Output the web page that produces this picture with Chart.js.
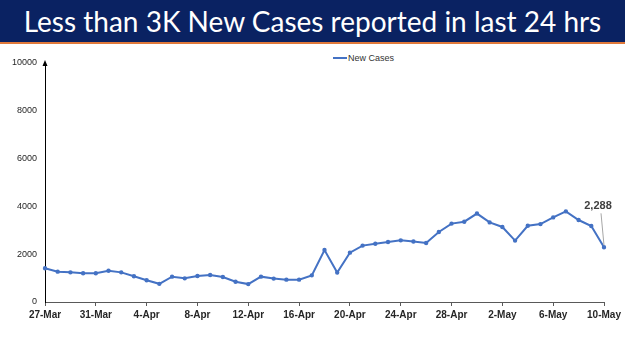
<!DOCTYPE html>
<html>
<head>
<meta charset="utf-8">
<script src="https://cdn.jsdelivr.net/npm/chart.js@4"></script>
<style>
  html, body { margin: 0; padding: 0; background: #fff; }
  #wrap { position: relative; width: 625px; height: 351px; overflow: hidden; }
  #banner {
    position: absolute; left: 0; top: 0; width: 625px; height: 42px;
    background: #0a2262; border-bottom: 2px solid #e0793a;
    color: #fff; font-family: Lato, sans-serif; font-size: 28px;
    line-height: 42px; text-align: center;
  }
  #legend {
    position: absolute; left: 333px; top: 53px;
    font-family: "Liberation Sans", Arial, sans-serif; font-size: 9px; color: #333;
    display: flex; align-items: center;
  }
  #legend span.mark { display: inline-block; width: 14px; height: 2px; background: #4472c4; margin-right: 1px; }
  #box { position: absolute; left: 0; top: 44px; width: 625px; height: 307px; }
</style>
</head>
<body>
<div id="wrap">
  <div id="banner">Less than 3K New Cases reported in last 24 hrs</div>
  <div id="legend"><span class="mark"></span>New Cases</div>
  <div id="box"><canvas id="casesChart"></canvas></div>
</div>
<script>
const dates = [
  '27-Mar', '28-Mar', '29-Mar', '30-Mar', '31-Mar',
  '1-Apr', '2-Apr', '3-Apr', '4-Apr', '5-Apr', '6-Apr', '7-Apr', '8-Apr', '9-Apr', '10-Apr',
  '11-Apr', '12-Apr', '13-Apr', '14-Apr', '15-Apr', '16-Apr', '17-Apr', '18-Apr', '19-Apr', '20-Apr',
  '21-Apr', '22-Apr', '23-Apr', '24-Apr', '25-Apr', '26-Apr', '27-Apr', '28-Apr', '29-Apr', '30-Apr',
  '1-May', '2-May', '3-May', '4-May', '5-May', '6-May', '7-May', '8-May', '9-May', '10-May'
];

const newCases = [
  1410, 1270, 1240, 1200, 1200,
  1310, 1240, 1075, 910, 760, 1060, 990, 1090, 1130, 1045,
  850, 750, 1060, 980, 935, 935, 1115, 2175, 1230, 2065,
  2360, 2440, 2510, 2580, 2530, 2470, 2930, 3280, 3360, 3700,
  3330, 3140, 2570, 3190, 3260, 3540, 3790, 3430, 3180, 2288
];

const yTicks = [0, 2000, 4000, 6000, 8000, 10000];
const lastLabel = '2,288';

const blue = '#4472c4';

// arrow on top of the y axis and the callout for the last value
const extras = {
  id: 'extras',
  afterDatasetsDraw(chart) {
    const c = chart.ctx;
    const area = chart.chartArea;
    const x = chart.scales.x, y = chart.scales.y;

    c.save();
    c.fillStyle = '#000';
    c.beginPath();
    c.moveTo(area.left, area.top - 3);
    c.lineTo(area.left - 2.5, area.top + 3);
    c.lineTo(area.left + 2.5, area.top + 3);
    c.closePath();
    c.fill();

    const i = newCases.length - 1;
    const px = x.getPixelForValue(i);
    const py = y.getPixelForValue(newCases[i]);
    c.strokeStyle = '#a6a6a6';
    c.lineWidth = 1;
    c.beginPath();
    c.moveTo(px - 3, py - 34);
    c.lineTo(px, py - 2);
    c.stroke();

    c.fillStyle = '#404040';
    c.font = 'bold 11px "Liberation Sans", Arial, sans-serif';
    c.textAlign = 'center';
    c.textBaseline = 'middle';
    c.fillText(lastLabel, px - 6, py - 41);
    c.restore();
  }
};

const chart = new Chart(document.getElementById('casesChart').getContext('2d'), {
  type: 'line',
  data: {
    labels: dates,
    datasets: [{
      label: 'New Cases',
      data: newCases,
      borderColor: blue,
      backgroundColor: blue,
      borderWidth: 2,
      tension: 0,
      pointRadius: 1.2,
      pointHoverRadius: 2,
      pointBackgroundColor: blue,
      pointBorderColor: blue
    }]
  },
  options: {
    responsive: true,
    maintainAspectRatio: false,
    animation: false,
    layout: { padding: { top: 19, right: 21, left: 0, bottom: 0 } },
    plugins: {
      legend: { display: false },
      tooltip: { enabled: false }
    },
    scales: {
      x: {
        offset: false,
        afterFit(scale) { scale.height = 49; },
        grid: {
          drawOnChartArea: false,
          drawTicks: true,
          tickLength: 4,
          color: '#595959'
        },
        border: { display: true, color: '#595959', width: 1 },
        ticks: {
          autoSkip: false,
          maxRotation: 0,
          padding: 3,
          color: '#262626',
          font: { family: '"Liberation Sans", Arial, sans-serif', size: 10, weight: 'bold' },
          callback(val, idx) { return idx % 4 === 0 ? dates[idx] : null; }
        }
      },
      y: {
        min: 0,
        max: 10000,
        afterFit(scale) { scale.width = 45; },
        afterBuildTicks(scale) { scale.ticks = yTicks.map(v => ({ value: v })); },
        grid: { display: false, drawTicks: false },
        border: { display: true, color: '#000', width: 1 },
        ticks: {
          padding: 8,
          color: '#262626',
          font: { family: '"Liberation Sans", Arial, sans-serif', size: 9 },
          callback(val) { return String(val); }
        }
      }
    }
  },
  plugins: [extras]
});
</script>
</body>
</html>
